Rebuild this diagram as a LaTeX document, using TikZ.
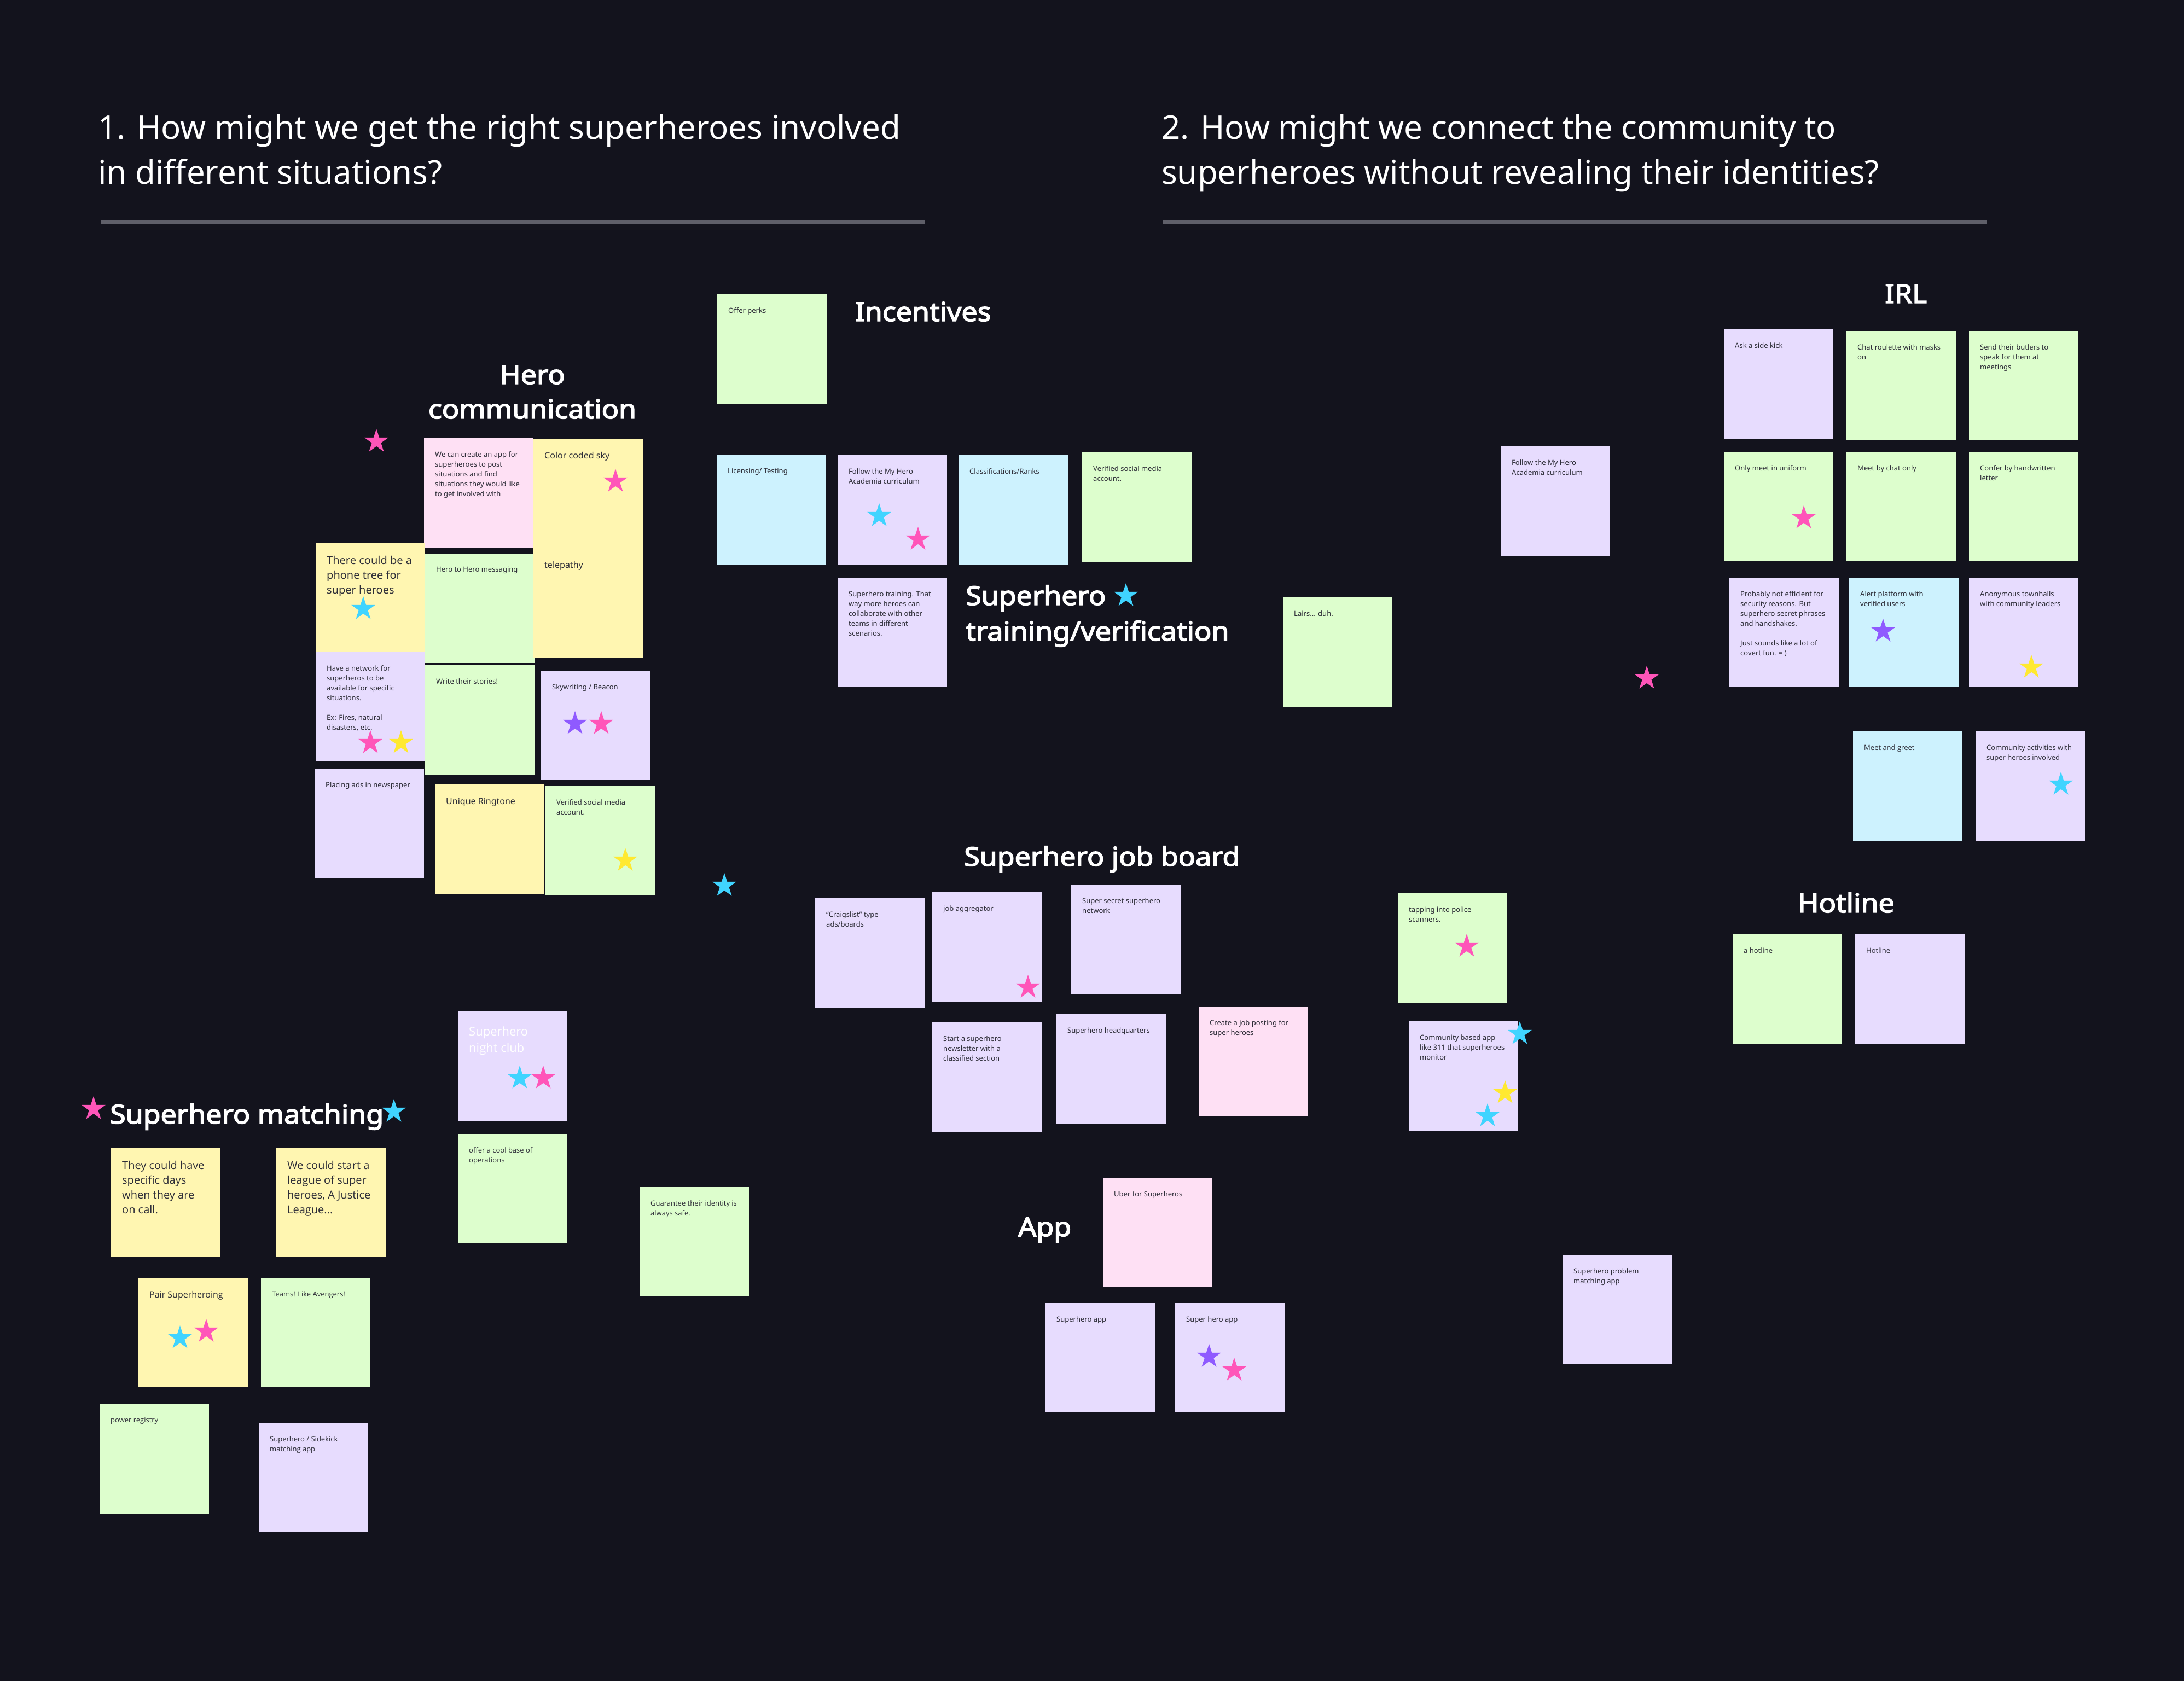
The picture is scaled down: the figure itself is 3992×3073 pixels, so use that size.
\documentclass[tikz,border=0pt]{standalone}
\usepackage{fontspec}
\usepackage{graphicx}
\setmainfont{Noto Sans}
\newfontfamily\osans{Open Sans}
\newfontfamily\headfont{Noto Sans}[AutoFakeBold=3]
\usetikzlibrary{shapes.geometric}
\definecolor{bg}{HTML}{13131D}
\definecolor{rulegray}{HTML}{5F5F69}
\definecolor{ntxt}{HTML}{2E2E38}
\definecolor{cyel}{HTML}{FFF6B1}
\definecolor{cgrn}{HTML}{DDFECD}
\definecolor{clav}{HTML}{E7DCFE}
\definecolor{cblu}{HTML}{CDF2FE}
\definecolor{cpnk}{HTML}{FEE0F4}
\definecolor{spnk}{HTML}{FF55B9}
\definecolor{sblu}{HTML}{40D4FF}
\definecolor{syel}{HTML}{FFE930}
\definecolor{spur}{HTML}{8F5AFF}
\tikzset{
  note/.style={rectangle, draw=none, minimum width=200pt, minimum height=200pt, inner sep=0pt, anchor=north west},
  ntext/.style={anchor=north west, inner sep=0pt, align=left, text=ntxt, font=\fontsize{13}{18}\selectfont},
  s16/.style={font=\fontsize{16}{22}\selectfont},
  s20/.style={font=\fontsize{20}{27}\selectfont},
  os13/.style={font=\osans\fontsize{13}{18}\selectfont},
  os16/.style={font=\osans\fontsize{16}{22}\selectfont},
  os20/.style={font=\osans\fontsize{20}{27}\selectfont},
  os22w/.style={font=\osans\fontsize{22}{30}\selectfont, text=white},
  starshape/.style={star, star points=5, star point ratio=2.618, minimum size=46pt, inner sep=0pt, draw=none},
  titletext/.style={anchor=base west, inner sep=0pt, text=white, font=\fontsize{60}{82}\selectfont},
  headtext/.style={inner sep=0pt, text=white, font=\headfont\bfseries\fontsize{48}{63}\selectfont},
  rulestyle/.style={draw=rulegray, line width=6pt},
}
\newcommand\stk[6]{%
  \node[note, fill=#4] (#1) at (#2,#3) {};
  \node[ntext, #5] (#1-t) at ([shift={(20,24)}]#1.north west) {#6};}
\newcommand\vstar[4]{\node[starshape, fill=#2] (#1) at (#3,#4) {};}
\newcommand\hd[1]{\scalebox{1.08}[1]{#1}}
\begin{document}
\begin{tikzpicture}[x=1pt,y=-1pt]
\fill[bg] (0,0) rectangle (3992,3073);
\useasboundingbox (0,0) rectangle (3992,3073);

% titles
\node[titletext] (t1a) at (179,254) {1. How might we get the right superheroes involved};
\node[titletext] (t1b) at (179,336) {in different situations?};
\coordinate (r1a) at (184,406); \coordinate (r1b) at (1690,406);
\draw[rulestyle] (r1a) -- (r1b);
\node[titletext] (t2a) at (2123,254) {2. How might we connect the community to};
\node[titletext] (t2b) at (2123,336) {superheroes without revealing their identities?};
\coordinate (r2a) at (2126,406); \coordinate (r2b) at (3632,406);
\draw[rulestyle] (r2a) -- (r2b);

% headings
\node[headtext, anchor=base] (hHero) at (973,702) {\hd{Hero}};
\node[headtext, anchor=base] (hComm) at (973,765) {\hd{communication}};
\node[headtext, anchor=base west] (hInc) at (1563,587) {\hd{Incentives}};
\node[headtext, anchor=base west] (hTr1) at (1765,1106) {\hd{Superhero}};
\node[headtext, anchor=base west] (hTr2) at (1765,1171) {\hd{training/verification}};
\vstar{sTr}{sblu}{2058}{1089}
\node[headtext, anchor=base west] (hJob) at (1762,1583) {\hd{Superhero job board}};
\node[headtext, anchor=base west] (hIRL) at (3445,554) {\hd{IRL}};
\node[headtext, anchor=base west] (hHot) at (3286,1668) {\hd{Hotline}};
\node[headtext, anchor=base west] (hApp) at (1861,2260) {\hd{App}};
\node[headtext, anchor=base west] (hMat) at (201,2054) {\hd{Superhero matching}};
\vstar{sMa}{spnk}{171}{2027}
\vstar{sMb}{sblu}{720}{2032}

% hero communication
\stk{hcApp}{775}{801}{cpnk}{}{We can create an app for\\superheroes to post\\situations and find\\situations they would like\\to get involved with}
\stk{hcSky}{975}{802}{cyel}{s16}{Color coded sky}
\stk{hcTree}{577}{992}{cyel}{s20}{There could be a\\phone tree for\\super heroes}
\stk{hcNet}{577}{1192}{clav}{}{Have a network for\\superheros to be\\available for specific\\situations.\\[18pt]Ex: Fires, natural\\disasters, etc.}
\stk{hcMsg}{777}{1012}{cgrn}{}{Hero to Hero messaging}
\stk{hcTel}{975}{1002}{cyel}{s16}{telepathy}
\stk{hcWrite}{777}{1216}{cgrn}{}{Write their stories!}
\stk{hcBeacon}{989}{1226}{clav}{}{Skywriting / Beacon}
\stk{hcAds}{575}{1405}{clav}{}{Placing ads in newspaper}
\stk{hcRing}{795}{1434}{cyel}{s16}{Unique Ringtone}
\stk{hcVer}{997}{1437}{cgrn}{}{Verified social media\\account.}
\vstar{sA}{spnk}{688}{807}
\vstar{sB}{spnk}{1125}{880}
\vstar{sC}{sblu}{664}{1113}
\vstar{sD}{spnk}{677}{1358}
\vstar{sE}{syel}{733}{1358}
\vstar{sF}{spur}{1051}{1323}
\vstar{sG}{spnk}{1099}{1323}
\vstar{sH}{syel}{1143}{1573}
\vstar{sI}{sblu}{1324}{1619}

% incentives / training
\stk{inPerks}{1311}{538}{cgrn}{}{Offer perks}
\stk{inLic}{1310}{832}{cblu}{}{Licensing/ Testing}
\stk{inFollow}{1531}{832}{clav}{}{Follow the My Hero\\Academia curriculum}
\stk{inClass}{1752}{832}{cblu}{}{Classifications/Ranks}
\stk{inVer}{1978}{827}{cgrn}{}{Verified social media\\account.}
\stk{inTrain}{1531}{1056}{clav}{}{Superhero training. That\\way more heroes can\\collaborate with other\\teams in different\\scenarios.}
\vstar{sJ}{sblu}{1607}{943}
\vstar{sK}{spnk}{1678}{986}

% standalone
\stk{soFollow}{2743}{816}{clav}{}{Follow the My Hero\\Academia curriculum}
\stk{soLairs}{2345}{1092}{cgrn}{}{Lairs... duh.}
\stk{soProb}{2856}{2294}{clav}{}{Superhero problem\\matching app}
\vstar{sL}{spnk}{3010}{1240}

% IRL
\stk{irAsk}{3151}{602}{clav}{}{Ask a side kick}
\stk{irChat}{3375}{605}{cgrn}{}{Chat roulette with masks\\on}
\stk{irButler}{3599}{605}{cgrn}{}{Send their butlers to\\speak for them at\\meetings}
\stk{irUni}{3151}{826}{cgrn}{}{Only meet in uniform}
\stk{irChatOnly}{3375}{826}{cgrn}{}{Meet by chat only}
\stk{irConfer}{3599}{826}{cgrn}{}{Confer by handwritten\\letter}
\stk{irProb}{3161}{1056}{clav}{}{Probably not efficient for\\security reasons. But\\superhero secret phrases\\and handshakes.\\[18pt]Just sounds like a lot of\\covert fun. = )}
\stk{irAlert}{3380}{1056}{cblu}{}{Alert platform with\\verified users}
\stk{irAnon}{3599}{1056}{clav}{}{Anonymous townhalls\\with community leaders}
\stk{irMeet}{3387}{1337}{cblu}{os13}{Meet and greet}
\stk{irComm}{3611}{1337}{clav}{os13}{Community activities with\\super heroes involved}
\vstar{sM}{spnk}{3297}{947}
\vstar{sN}{spur}{3442}{1154}
\vstar{sO}{syel}{3713}{1220}
\vstar{sP}{sblu}{3767}{1434}

% hotline
\stk{hoA}{3167}{1708}{cgrn}{os13}{a hotline}
\stk{hoB}{3391}{1708}{clav}{os13}{Hotline}

% job board
\stk{jbCraig}{1490}{1642}{clav}{}{“Craigslist” type\\ads/boards}
\stk{jbAgg}{1704}{1631}{clav}{}{job aggregator}
\stk{jbSecret}{1958}{1617}{clav}{}{Super secret superhero\\network}
\stk{jbNews}{1704}{1869}{clav}{}{Start a superhero\\newsletter with a\\classified section}
\stk{jbHQ}{1931}{1854}{clav}{}{Superhero headquarters}
\stk{jbPost}{2191}{1840}{cpnk}{}{Create a job posting for\\super heroes}
\stk{jbPolice}{2555}{1633}{cgrn}{}{tapping into police\\scanners.}
\stk{jbComm}{2575}{1867}{clav}{}{Community based app\\like 311 that superheroes\\monitor}
\vstar{sQ}{spnk}{1879}{1805}
\vstar{sR}{spnk}{2681}{1730}
\vstar{sS}{sblu}{2778}{1890}
\vstar{sT}{syel}{2751}{1998}
\vstar{sU}{sblu}{2719}{2040}

% superhero matching
\stk{maDays}{203}{2098}{cyel}{os20}{They could have\\specific days\\when they are\\on call.}
\stk{maLeague}{505}{2098}{cyel}{os20}{We could start a\\league of super\\heroes, A Justice\\League...}
\stk{maPair}{253}{2336}{cyel}{os16}{Pair Superheroing}
\stk{maTeams}{477}{2336}{cgrn}{os13}{Teams! Like Avengers!}
\stk{maPower}{182}{2567}{cgrn}{os13}{power registry}
\stk{maSide}{473}{2601}{clav}{os13}{Superhero / Sidekick\\matching app}
\node[note, fill=clav] (maClub) at (837,1849) {};
\node[ntext, os22w] (maClub-t) at ([shift={(20,28)}]maClub.north west) {Superhero\\night club};
\stk{maBase}{837}{2073}{cgrn}{os13}{offer a cool base of\\operations}
\stk{maGuar}{1169}{2170}{cgrn}{os13}{Guarantee their identity is\\always safe.}
\vstar{sV}{sblu}{329}{2446}
\vstar{sW}{spnk}{377}{2434}
\vstar{sX}{sblu}{950}{1971}
\vstar{sY}{spnk}{993}{1971}

% app
\stk{apUber}{2016}{2153}{cpnk}{}{Uber for Superheros}
\stk{apSH}{1911}{2382}{clav}{}{Superhero app}
\stk{apSH2}{2148}{2382}{clav}{}{Super hero app}
\vstar{sZ}{spur}{2210}{2480}
\vstar{sZb}{spnk}{2256}{2505}
\end{tikzpicture}
\end{document}
